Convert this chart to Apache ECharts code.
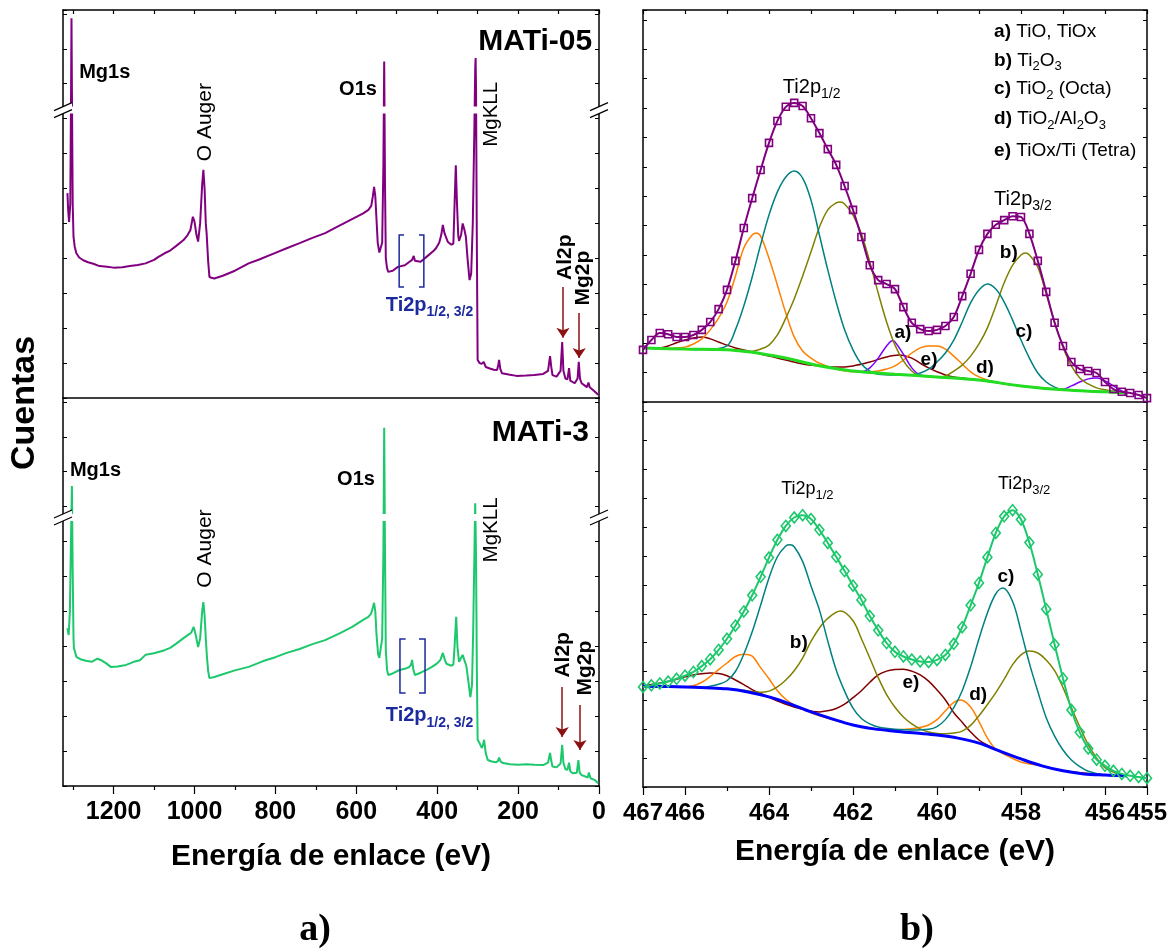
<!DOCTYPE html>
<html>
<head>
<meta charset="utf-8">
<script src="https://cdn.jsdelivr.net/npm/echarts@6/dist/echarts.min.js"></script>
<style>html,body{margin:0;padding:0;background:#fff}#c{width:1170px;height:950px}</style>
</head>
<body>
<div id="c"></div>
<script>
// ================= DATA =================
// Survey spectra: [binding energy eV, relative counts (display units 0-100)]
const surveyMATi05 = [
 [1314,52.8],[1312,48],[1310,45.4],[1307,50],[1305,80],[1304,97.9],[1303,80],[1301,50],[1299,41.5],[1296,39],
 [1292,37.3],[1285,36.2],[1275,35.5],[1263,35.0],[1250,34.6],[1235,34.0],[1216,33.8],[1200,33.6],[1178,33.7],
 [1160,34.0],[1140,34.3],[1121,34.7],[1100,35.6],[1090,36.3],[1074,37.3],[1060,38.0],[1045,39.2],[1027,40.7],
 [1017,42.0],[1010,43.3],[1004,46.7],[1000,45.5],[995,42.0],[991,40.3],[986,45],[981,55],[978,58.8],[975,54],
 [972,45],[970,42.5],[966,35],[963,31.2],[958,31.0],[951,30.8],[930,31.5],[900,32.8],[866,34.7],[840,35.7],
 [800,37.4],[772,38.6],[740,39.9],[710,41.2],[677,42.5],[650,44.0],[620,45.6],[583,47.6],[570,48.5],[563,49.5],
 [559,52],[556,54.4],[553,52],[550,46],[547,40],[543,37.5],[540,37.3],[536,40],[533,60],[531,86.7],[529,55],
 [527,36],[524,33.5],[521,32.5],[510,32.8],[497,33.8],[480,34.2],[470,35.0],[462,35.6],[458,36.6],[455,35.4],
 [441,35.1],[425,36.5],[410,37.8],[403,38.6],[395,40.0],[390,42.0],[386,44.6],[382,42.5],[374,40.3],[365,39.5],
 [360,39.8],[357,50],[354,60.0],[351,50],[348,42.0],[346,40.5],[341,42],[337,45.0],[333,43.5],[329,41.5],
 [325,36],[320,30.4],[316,32],[312,45],[308,70],[306,85],[305,87.6],[304,80],[302,40],[300,9.8],[295,9.0],
 [290,8.8],[285,9.3],[280,8.0],[270,7.6],[260,7.3],[252,7.2],[249,8.5],[247,9.8],[244,7.5],[240,6.4],[220,6.0],
 [204,5.7],[180,5.8],[160,5.9],[138,6.2],[126,7.0],[121,10.8],[118,8],[115,5.9],[105,5.5],[95,7],[91,14.4],
 [88,7],[83,5.0],[78,4.8],[74,7.7],[71,4.5],[67,4.0],[60,3.8],[53,5],[50,9.3],[47,5],[43,3.8],[35,3.2],[30,2.8],
 [26,4.0],[23,2.8],[20,2.5],[12,1.8],[6,1.2],[2,0.8]
];
const surveyMATi3 = [
 [1314,40.7],[1311,38.9],[1308,45],[1305,65],[1303,77.3],[1301,55],[1299,38],[1298,35.6],[1292,33.3],[1280,32.6],
 [1268,32.3],[1254,32.0],[1240,32.8],[1230,32.4],[1226,32.7],[1218,31.6],[1207,30.7],[1190,30.8],[1169,31.2],
 [1150,32.0],[1135,32.4],[1121,33.8],[1100,34.2],[1074,35.0],[1060,35.6],[1045,36.7],[1027,38.1],[1015,39.0],
 [1008,39.5],[1002,41.0],[997,39.0],[991,35.8],[986,38],[981,45],[978,47.4],[975,44],[972,38],[969,33],[966,29.5],
 [963,27.8],[951,28.1],[930,28.8],[900,29.8],[866,30.7],[830,32.2],[800,33.2],[772,34.3],[740,35.3],[710,36.5],
 [677,37.6],[640,39.4],[610,41.0],[583,42.8],[570,43.6],[563,44.5],[559,46],[556,47.2],[553,45],[550,39],[546,34],
 [543,33.0],[540,33.3],[536,38],[533,60],[531,92.3],[529,60],[527,35],[524,30],[521,28.6],[510,29.0],[493,29.9],
 [480,30.2],[470,30.6],[465,31.2],[462,32.5],[459,30],[455,28.6],[441,29.2],[425,30.0],[413,30.7],[400,31.6],
 [392,32.5],[386,34.3],[381,32.5],[377,31.5],[365,31.0],[360,31.3],[357,36],[353,43.6],[350,36],[346,32.0],
 [341,33],[337,33.8],[333,32.5],[328,31],[323,27],[318,22.9],[314,26],[311,40],[308,60],[306,72.9],[304,60],
 [302,30],[300,11.9],[295,11.0],[290,9.8],[287,10.5],[284,11.9],[280,8.5],[275,6.7],[265,6.3],[255,6.1],[250,6.4],
 [247,7.3],[243,6.3],[237,5.9],[220,5.6],[200,5.5],[180,5.6],[160,5.5],[138,5.4],[126,6.0],[121,8.5],[118,6.5],
 [115,5.0],[105,4.8],[95,5.8],[91,10.6],[88,6],[83,4.3],[78,4.2],[74,6.0],[71,3.8],[65,3.3],[55,3.4],[51,6.7],
 [48,3.5],[43,2.8],[35,2.5],[28,2.2],[25,3.5],[21,2.0],[17,1.8],[10,1.5],[6,1.0],[2,0.7]
];

// Ti2p high-resolution, MATi-05
const ti05Data = [
 [467.0,13.3],[466.8,15.8],[466.6,17.6],[466.4,17.3],[466.2,16.6],[466.0,16.6],[465.8,17.1],[465.6,18.4],[465.4,20.4],
 [465.2,23.7],[465.0,28.6],[464.8,36.0],[464.6,44.4],[464.4,52.0],[464.2,59.2],[464.0,66.1],[463.8,71.7],[463.6,75.3],
 [463.4,76.3],[463.2,75.5],[463.0,72.4],[462.8,68.6],[462.6,64.5],[462.4,60.5],[462.2,55.1],[462.0,49.0],[461.8,42.1],
 [461.6,34.9],[461.4,31.1],[461.2,30.1],[461.0,28.8],[460.8,24.2],[460.6,20.2],[460.4,18.6],[460.2,18.1],[460.0,18.4],
 [459.8,19.4],[459.6,21.7],[459.4,27.0],[459.2,32.7],[459.0,38.8],[458.8,42.9],[458.6,45.2],[458.4,46.4],[458.2,47.4],
 [458.0,47.2],[457.8,42.9],[457.6,36.0],[457.4,28.1],[457.2,20.2],[457.0,14.3],[456.8,10.2],[456.6,8.4],[456.4,7.9],
 [456.2,7.4],[456.0,5.1],[455.8,3.3],[455.6,2.6],[455.4,2.3],[455.2,1.8],[455.0,1.0]
];
const ti05Baseline = [
 [467,13.8],[466,13.5],[465,13.3],[464.5,12.8],[464,12.0],[463.5,11.0],[463,9.7],[462.5,8.7],[462,7.9],[461,7.1],
 [460,6.4],[459,5.6],[458,4.1],[457,3.1],[456,2.6],[455.5,2.3]
];
const ti05A_TiO = [
 [467,13.8],[466,13.5],[465,13.3],[464,12.0],[463,9.7],[462,7.9],[461.8,7.7],[461.6,8.7],[461.4,11.2],[461.2,14.3],
 [461.06,15.6],[461.0,15.3],[460.8,12.2],[460.6,8.7],[460.4,6.9],[460.0,6.4],[459.0,5.6],[458.0,4.1],[457.2,3.3],
 [457.0,3.3],[456.8,4.1],[456.6,5.1],[456.4,5.9],[456.2,6.1],[456.0,5.4],[455.8,4.1],[455.6,2.8],[455.5,2.3]
];
const ti05B_Ti2O3 = [
 [467,13.8],[466,13.5],[465,13.3],[464.5,12.8],[464.2,13.5],[464.0,14.5],[463.8,17.1],[463.6,21.4],[463.4,26.3],
 [463.2,32.1],[463.0,38.3],[462.8,44.6],[462.6,49.0],[462.4,50.8],[462.3,51.0],[462.2,50.5],[462.0,47.7],[461.8,42.9],
 [461.6,35.7],[461.4,27.8],[461.2,20.4],[461.0,14.5],[460.8,10.5],[460.6,7.9],[460.4,6.6],[460.0,6.4],[459.8,6.6],
 [459.6,7.9],[459.4,9.4],[459.2,11.7],[459.0,14.8],[458.8,18.9],[458.6,24.5],[458.4,30.4],[458.2,34.9],[458.0,37.5],
 [457.9,38.0],[457.8,37.5],[457.6,34.4],[457.4,27.6],[457.2,20.4],[457.0,14.0],[456.8,9.2],[456.6,6.1],[456.4,4.6],
 [456.2,3.6],[456.0,3.1],[455.5,2.3]
];
const ti05C_TiO2Octa = [
 [467,13.8],[466,13.5],[465.5,13.4],[465.0,14.3],[464.8,18.4],[464.6,24.5],[464.4,31.9],[464.2,40.1],[464.0,47.7],
 [463.8,53.6],[463.6,57.4],[463.4,58.9],[463.2,57.1],[463.0,51.5],[462.8,42.6],[462.6,33.7],[462.4,25.5],[462.2,18.4],
 [462.0,13.3],[461.8,9.7],[461.6,7.9],[461.4,7.1],[461.0,6.9],[460.6,6.9],[460.4,7.4],[460.2,8.4],[460.0,10.2],
 [459.8,12.5],[459.6,15.8],[459.4,20.4],[459.2,25.3],[459.0,28.6],[458.8,30.1],[458.6,28.8],[458.4,25.5],[458.2,20.9],
 [458.0,15.8],[457.8,11.2],[457.6,7.4],[457.4,5.1],[457.2,3.8],[457.0,3.1],[456.5,2.8],[456.0,2.6],[455.5,2.3]
];
const ti05D_TiO2Al2O3 = [
 [467,13.8],[466.4,13.6],[466.2,13.8],[466.0,14.0],[465.8,14.8],[465.6,16.1],[465.4,18.4],[465.2,21.4],[465.0,25.5],
 [464.8,32.1],[464.6,39.3],[464.4,42.6],[464.3,43.1],[464.2,42.3],[464.0,36.7],[463.8,29.8],[463.6,22.7],[463.4,16.6],
 [463.2,13.0],[463.0,11.2],[462.8,9.9],[462.4,8.4],[462.0,7.7],[461.6,7.7],[461.4,7.9],[461.2,8.4],[461.0,9.2],
 [460.8,10.7],[460.6,12.5],[460.4,13.8],[460.2,14.3],[460.0,14.3],[459.8,13.5],[459.6,11.7],[459.4,9.7],[459.2,7.7],
 [459.0,6.4],[458.8,5.6],[458.5,4.8],[458.0,4.1],[457.5,3.6],[457.0,3.1],[456.0,2.6],[455.5,2.3]
];
const ti05E_TiOxTi = [
 [467,13.8],[466.6,13.8],[466.4,14.3],[466.2,15.1],[466.0,15.8],[465.8,16.3],[465.6,16.6],[465.4,16.1],[465.2,15.3],
 [465.0,14.5],[464.8,13.8],[464.4,12.8],[464.0,11.7],[463.6,10.7],[463.2,9.7],[462.8,9.2],[462.4,8.9],[462.0,9.2],
 [461.6,10.2],[461.2,11.5],[460.9,12.0],[460.6,11.2],[460.4,9.9],[460.2,8.7],[460.0,7.7],[459.8,6.9],[459.6,6.4],
 [459.0,5.6],[458.0,4.1],[457.0,3.1],[456.0,2.6],[455.5,2.3]
];

// Ti2p high-resolution, MATi-3
const ti3Data = [
 [467.0,26.0],[466.8,26.4],[466.6,26.9],[466.4,27.4],[466.2,28.1],[466.0,28.9],[465.8,29.9],[465.6,31.4],[465.4,33.2],
 [465.2,35.6],[465.0,38.5],[464.8,41.9],[464.6,45.6],[464.4,49.8],[464.2,54.6],[464.0,59.6],[463.8,64.2],[463.6,67.8],
 [463.4,70.0],[463.2,70.6],[463.0,69.6],[462.8,66.8],[462.6,63.4],[462.4,59.8],[462.2,56.1],[462.0,52.3],[461.8,48.6],
 [461.6,44.4],[461.4,40.7],[461.2,37.4],[461.0,35.1],[460.8,33.9],[460.6,33.1],[460.4,32.6],[460.2,32.5],[460.0,33.0],
 [459.8,34.3],[459.6,37.2],[459.4,41.5],[459.2,47.2],[459.0,53.0],[458.8,59.7],[458.6,66.0],[458.4,70.3],[458.2,71.9],
 [458.0,69.5],[457.8,63.5],[457.6,55.2],[457.4,46.2],[457.2,37.0],[457.0,28.2],[456.8,20.0],[456.6,14.2],[456.4,10.0],
 [456.2,7.1],[456.0,5.5],[455.8,4.2],[455.6,3.4],[455.4,2.9],[455.2,2.6],[455.0,2.3]
];
const ti3Baseline = [
 [467,26.2],[466,26.0],[465.5,25.8],[465,25.5],[464.5,24.7],[464,23.4],[463.5,21.6],[463,19.5],[462.5,17.7],[462,16.1],
 [461.5,15.1],[461,14.5],[460.5,14.0],[460,13.5],[459.5,12.7],[459,11.4],[458.5,9.3],[458,7.3],[457.5,5.5],[457,4.2],
 [456.5,3.4],[456,3.1],[455.5,2.9]
];
const ti3B_Ti2O3 = [
 [467,26.2],[466,26.0],[465,25.5],[464.6,25.1],[464.4,24.8],[464.2,24.6],[464.0,24.9],[463.8,26.0],[463.6,27.8],
 [463.4,30.2],[463.2,33.5],[463.0,37.8],[462.8,41.3],[462.6,43.8],[462.3,45.7],[462.0,43.2],[461.8,38.5],[461.6,33.5],
 [461.4,28.4],[461.2,24.0],[461.0,20.7],[460.8,18.2],[460.6,16.4],[460.4,15.1],[460.2,14.3],[460.0,13.9],[459.8,13.8],
 [459.6,14.0],[459.4,14.5],[459.2,16.0],[459.0,18.5],[458.8,21.4],[458.6,24.5],[458.4,28.0],[458.2,31.8],[458.0,34.3],
 [457.8,35.3],[457.6,34.8],[457.4,33.0],[457.2,30.2],[457.0,25.8],[456.8,20.6],[456.6,15.6],[456.4,11.0],[456.2,7.5],
 [456.0,5.0],[455.8,3.9],[455.5,2.9]
];
const ti3C_TiO2Octa = [
 [467,26.2],[466,26.0],[465.6,25.8],[465.4,26.2],[465.2,26.7],[465.0,27.6],[464.8,30.0],[464.6,34.5],[464.4,40.3],
 [464.2,47.2],[464.0,54.3],[463.8,59.8],[463.6,62.6],[463.5,62.9],[463.4,62.4],[463.2,58.6],[463.0,52.2],[462.8,46.0],
 [462.6,37.9],[462.4,30.4],[462.2,24.9],[462.0,20.5],[461.8,17.8],[461.6,16.4],[461.4,15.6],[461.0,15.0],[460.6,14.8],
 [460.2,15.0],[460.0,15.7],[459.8,17.5],[459.6,20.6],[459.4,25.0],[459.2,31.2],[459.0,38.5],[458.8,45.2],[458.6,50.2],
 [458.43,51.7],[458.2,48.2],[458.0,40.5],[457.8,32.1],[457.6,24.8],[457.4,18.0],[457.2,13.2],[457.0,9.6],[456.8,7.0],
 [456.6,5.3],[456.4,4.1],[456.0,3.1],[455.5,2.9]
];
const ti3D_TiO2Al2O3 = [
 [467,26.2],[466,26.0],[465.8,26.3],[465.6,27.2],[465.4,28.7],[465.2,30.5],[465.0,32.2],[464.8,33.9],[464.6,34.5],
 [464.4,34.0],[464.2,31.0],[464.0,28.1],[463.8,25.0],[463.6,22.8],[463.4,21.3],[463.0,19.3],[462.5,17.5],[462.0,16.1],
 [461.5,15.2],[461.0,14.8],[460.6,15.1],[460.4,15.5],[460.2,16.1],[460.0,17.5],[459.8,19.8],[459.6,22.0],[459.43,22.6],
 [459.2,20.8],[459.0,17.0],[458.8,12.7],[458.6,9.8],[458.4,8.5],[458.0,6.5],[457.5,5.5],[457.0,4.2],[456.0,3.1],[455.5,2.9]
];
const ti3E_TiOxTi = [
 [467,26.2],[466.6,27.0],[466.2,28.0],[466.0,28.6],[465.8,29.1],[465.6,29.4],[465.4,29.6],[465.2,29.5],[465.0,28.9],
 [464.8,27.8],[464.6,26.6],[464.4,25.3],[464.2,24.3],[464.0,23.3],[463.6,21.5],[463.2,20.2],[462.8,19.5],[462.6,19.8],
 [462.4,20.4],[462.2,21.5],[462.0,23.2],[461.8,25.0],[461.6,27.2],[461.4,29.1],[461.2,30.1],[461.0,30.5],[460.8,30.6],
 [460.6,30.1],[460.4,29.1],[460.2,27.5],[460.0,25.2],[459.8,22.6],[459.6,19.3],[459.4,16.8],[459.2,14.3],[459.0,12.2],
 [458.8,10.9],[458.5,9.3],[458.0,7.3],[457.5,5.5],[457.0,4.2],[456.0,3.1],[455.5,2.9]
];

// Tick values
const surveyLabelTicks = [0, 200, 400, 600, 800, 1000, 1200];
const surveyMinorTicks = [100, 300, 500, 700, 900, 1100, 1300];
const surveyTopTicks = [0,100,200,300,400,500,600,700,800,900,1000,1100,1200,1300];
const tiLabelTicks = [455, 456, 458, 460, 462, 464, 466, 467];
const tiMinorTicks = [457, 459, 461, 463, 465];
const tiTopTicks = [455,456,457,458,459,460,461,462,463,464,465,466,467];

// ================= CHART =================
const FONT = '"Liberation Sans", Arial, Helvetica, sans-serif';
const SERIF = '"Liberation Serif", "Times New Roman", serif';
const SURVEY_MIN = 0, SURVEY_MAX = 1325, TI_MIN = 455, TI_MAX = 467;

const chart = echarts.init(document.getElementById('c'), null, {renderer: 'canvas'});

function xAx(grid, pos, min, max, cfg) {
  return Object.assign({
    type: 'value', gridIndex: grid, position: pos, min: min, max: max, inverse: true,
    axisLine: {show: true, onZero: false, lineStyle: {color: '#000', width: 1.5}},
    axisTick: {show: false},
    axisLabel: {show: false},
    splitLine: {show: false}
  }, cfg || {});
}
function yAx(grid, pos, interval) {
  return {
    type: 'value', gridIndex: grid, position: pos, min: 0, max: 100, interval: interval,
    axisLine: {show: true, onZero: false, lineStyle: {color: '#000', width: 1.5}},
    axisTick: {show: true, inside: true, length: 4, lineStyle: {color: '#000', width: 1}},
    axisLabel: {show: false},
    splitLine: {show: false}
  };
}
const tickStyle = {color: '#000', width: 1.2};
const lblStyle = (size, vals) => ({show: true, customValues: vals, color: '#000', fontFamily: FONT, fontWeight: 'bold',
  fontSize: size, margin: 14, formatter: v => String(v)});

const comp = (data, color, xi, yi, w) => ({
  type: 'line', data: data, xAxisIndex: xi, yAxisIndex: yi, showSymbol: false, smooth: 0.35,
  lineStyle: {color: color, width: w || 1.5}, z: 2, silent: true
});

const arrowStyle = {silent: true, symbol: ['none', 'arrow'], symbolSize: 10, label: {show: false},
  lineStyle: {color: '#8b1010', width: 1.5, type: 'solid'}, emphasis: {disabled: true}};

const option = {
  animation: false,
  backgroundColor: '#ffffff',
  grid: [
    {left: 63, top: 10, width: 536, height: 388, containLabel: false, outerBoundsMode: 'none'},
    {left: 63, top: 398, width: 536, height: 388, containLabel: false, outerBoundsMode: 'none'},
    {left: 643, top: 10, width: 504, height: 392, containLabel: false, outerBoundsMode: 'none'},
    {left: 643, top: 402, width: 504, height: 385, containLabel: false, outerBoundsMode: 'none'}
  ],
  xAxis: [
    xAx(0, 'bottom', SURVEY_MIN, SURVEY_MAX),
    xAx(0, 'top', SURVEY_MIN, SURVEY_MAX, {axisTick: {show: true, inside: true, length: 4, customValues: surveyTopTicks, lineStyle: tickStyle}}),
    xAx(1, 'bottom', SURVEY_MIN, SURVEY_MAX, {
      axisTick: {show: true, inside: false, length: 8, customValues: surveyLabelTicks, lineStyle: tickStyle},
      axisLabel: lblStyle(25, surveyLabelTicks)}),
    xAx(1, 'bottom', SURVEY_MIN, SURVEY_MAX, {axisLine: {show: false, onZero: false},
      axisTick: {show: true, inside: false, length: 4, customValues: surveyMinorTicks, lineStyle: tickStyle}}),
    xAx(2, 'bottom', TI_MIN, TI_MAX),
    xAx(2, 'top', TI_MIN, TI_MAX, {axisTick: {show: true, inside: true, length: 4, customValues: tiTopTicks, lineStyle: tickStyle}}),
    xAx(3, 'bottom', TI_MIN, TI_MAX, {
      axisTick: {show: true, inside: false, length: 8, customValues: tiLabelTicks, lineStyle: tickStyle},
      axisLabel: lblStyle(24, tiLabelTicks)}),
    xAx(3, 'bottom', TI_MIN, TI_MAX, {axisLine: {show: false, onZero: false},
      axisTick: {show: true, inside: false, length: 4, customValues: tiMinorTicks, lineStyle: tickStyle}})
  ],
  yAxis: [
    yAx(0, 'left', 9), yAx(0, 'right', 9),
    yAx(1, 'left', 9), yAx(1, 'right', 9),
    yAx(2, 'left', 7.5), yAx(2, 'right', 7.5),
    yAx(3, 'left', 7.5), yAx(3, 'right', 7.5)
  ],
  series: [
    {type: 'line', data: surveyMATi05, xAxisIndex: 0, yAxisIndex: 0, showSymbol: false,
     lineStyle: {color: '#800080', width: 2}, z: 3, silent: true,
     markLine: Object.assign({data: [
       [{coord: [89, 28.6]}, {coord: [89, 15.5]}],
       [{coord: [49, 21.9]}, {coord: [49, 10.3]}]
     ]}, arrowStyle)},
    {type: 'line', data: surveyMATi3, xAxisIndex: 2, yAxisIndex: 2, showSymbol: false,
     lineStyle: {color: '#1dc86d', width: 2}, z: 3, silent: true,
     markLine: Object.assign({data: [
       [{coord: [91, 25.5]}, {coord: [91, 12.6]}],
       [{coord: [47, 20.9]}, {coord: [47, 9.3]}]
     ]}, arrowStyle)},

    comp(ti05E_TiOxTi, '#800000', 4, 4),
    comp(ti05D_TiO2Al2O3, '#ff8000', 4, 4),
    comp(ti05A_TiO, '#8000ff', 4, 4),
    comp(ti05B_Ti2O3, '#808000', 4, 4),
    comp(ti05C_TiO2Octa, '#008080', 4, 4),
    Object.assign(comp(ti05Baseline, '#22dd22', 4, 4, 3), {z: 3}),
    {type: 'line', data: ti05Data, xAxisIndex: 4, yAxisIndex: 4, smooth: 0.3, symbol: 'rect', symbolSize: 7,
     showSymbol: true, silent: true, z: 4,
     lineStyle: {color: '#800080', width: 2},
     itemStyle: {color: 'rgba(255,255,255,0)', borderColor: '#800080', borderWidth: 1.6}},

    comp(ti3E_TiOxTi, '#800000', 6, 6),
    comp(ti3D_TiO2Al2O3, '#ff8000', 6, 6),
    comp(ti3B_Ti2O3, '#808000', 6, 6),
    comp(ti3C_TiO2Octa, '#008080', 6, 6),
    Object.assign(comp(ti3Baseline, '#0000ff', 6, 6, 3), {z: 3}),
    {type: 'line', data: ti3Data, xAxisIndex: 6, yAxisIndex: 6, smooth: 0.3, symbol: 'diamond', symbolSize: [9, 11],
     showSymbol: true, silent: true, z: 4,
     lineStyle: {color: '#1dc86d', width: 2},
     itemStyle: {color: 'rgba(255,255,255,0)', borderColor: '#1dc86d', borderWidth: 1.6}}
  ]
};
chart.setOption(option);

// ================= ANNOTATIONS =================
const AXES = [[0, 0], [2, 2], [4, 4], [6, 6]];
const pix = (g, x, y) => chart.convertToPixel({xAxisIndex: AXES[g][0], yAxisIndex: AXES[g][1]}, [x, y]);
const els = [];
function txt(g, x, y, text, style, rot) {
  const p = pix(g, x, y);
  els.push({type: 'text', x: p[0], y: p[1], rotation: rot || 0, z: 100, silent: true,
    style: Object.assign({text: text, fill: '#000', fontFamily: FONT, fontSize: 20, align: 'center', verticalAlign: 'middle'}, style)});
}
function ptxt(x, y, text, style, rot) {
  els.push({type: 'text', x: x, y: y, rotation: rot || 0, z: 100, silent: true,
    style: Object.assign({text: text, fill: '#000', fontFamily: FONT, fontSize: 20, align: 'center', verticalAlign: 'middle'}, style)});
}
const B = {fontWeight: 'bold'};
const ROT = Math.PI / 2;

// break marks + gap in survey panels
[[0, 74.2], [1, 69.2]].forEach(([g, yv]) => {
  const l = pix(g, SURVEY_MAX, yv), r = pix(g, SURVEY_MIN, yv);
  els.push({type: 'rect', z: 99, silent: true, shape: {x: l[0] + 1, y: l[1] - 3.5, width: r[0] - l[0] - 2, height: 7}, style: {fill: '#fff'}});
  [l, r].forEach(p => {
    const x = p[0], y = p[1];
    els.push({type: 'polygon', z: 100, silent: true, shape: {points: [[x - 9, y + 0.5], [x + 9, y - 7.5], [x + 9, y - 0.5], [x - 9, y + 7.5]]}, style: {fill: '#fff'}});
    els.push({type: 'line', z: 101, silent: true, shape: {x1: x - 9, y1: y + 0.5, x2: x + 9, y2: y - 7.5}, style: {stroke: '#000', lineWidth: 1.3}});
    els.push({type: 'line', z: 101, silent: true, shape: {x1: x - 9, y1: y + 7.5, x2: x + 9, y2: y - 0.5}, style: {stroke: '#000', lineWidth: 1.3}});
  });
});

// brackets around Ti2p region
const BLUE = '#1c2a9e';
function bracket(g, xOuter, xInner, yTop, yBot) {
  const a = pix(g, xInner, yTop), b = pix(g, xOuter, yTop), c = pix(g, xOuter, yBot), d = pix(g, xInner, yBot);
  els.push({type: 'polyline', z: 100, silent: true, shape: {points: [a, b, c, d]}, style: {stroke: BLUE, lineWidth: 1.5, fill: null}});
}
bracket(0, 494, 482, 42.0, 28.6); bracket(0, 433, 445, 42.0, 28.6);
bracket(1, 492, 478, 37.9, 24.0); bracket(1, 430, 445, 37.9, 24.0);

const tiRichBlue = {
  n: {fontSize: 20, fontWeight: 'bold', fill: BLUE, fontFamily: FONT, lineHeight: 22, verticalAlign: 'top'},
  s: {fontSize: 14, fontWeight: 'bold', fill: BLUE, fontFamily: FONT, lineHeight: 14, verticalAlign: 'top', padding: [10, 0, 0, 0]}
};

// Survey top panel
txt(0, 1285, 83.8, 'Mg1s', Object.assign({align: 'left'}, B));
txt(0, 973, 71.1, 'O Auger', {fontSize: 21}, ROT);
txt(0, 549, 79.4, 'O1s', Object.assign({align: 'right'}, B));
txt(0, 267, 73.1, 'MgKLL', {fontSize: 20.5}, ROT);
txt(0, 17, 91.9, 'MATi-05', {align: 'right', fontWeight: 'bold', fontSize: 30});
txt(0, 527, 23.7, '{n|Ti2p}{s|1/2, 3/2}', {align: 'left', rich: tiRichBlue});
txt(0, 84, 36.3, 'Al2p', Object.assign({fontSize: 21}, B), ROT);
txt(0, 40, 30.9, 'Mg2p', Object.assign({fontSize: 21}, B), ROT);
// Survey bottom panel
txt(1, 1308, 81.4, 'Mg1s', Object.assign({align: 'left'}, B));
txt(1, 974, 61.2, 'O Auger', {fontSize: 21}, ROT);
txt(1, 554, 78.9, 'O1s', Object.assign({align: 'right'}, B));
txt(1, 267, 66.0, 'MgKLL', {fontSize: 20.5}, ROT);
txt(1, 25, 91.0, 'MATi-3', {align: 'right', fontWeight: 'bold', fontSize: 30});
txt(1, 527, 17.8, '{n|Ti2p}{s|1/2, 3/2}', {align: 'left', rich: tiRichBlue});
txt(1, 89, 33.8, 'Al2p', Object.assign({fontSize: 21}, B), ROT);
txt(1, 35, 30.4, 'Mg2p', Object.assign({fontSize: 21}, B), ROT);

// Ti2p panels
const richTi = (fs, ss, pad) => ({
  n: {fontSize: fs, fontFamily: FONT, fill: '#000', lineHeight: fs + 2, verticalAlign: 'top'},
  b: {fontSize: fs, fontFamily: FONT, fill: '#000', fontWeight: 'bold', lineHeight: fs + 2, verticalAlign: 'top'},
  s: {fontSize: ss, fontFamily: FONT, fill: '#000', lineHeight: ss, verticalAlign: 'top', padding: [pad, 0, 0, 0]}
});
const r20 = richTi(20, 14, 10), r18 = richTi(18, 13, 9), r19 = richTi(19, 13, 9);
txt(2, 463.67, 80.1, '{n|Ti2p}{s|1/2}', {align: 'left', rich: r20});
txt(2, 458.64, 51.5, '{n|Ti2p}{s|3/2}', {align: 'left', rich: r20});
const legendLines = [
  '{b|a)}{n| TiO, TiOx}',
  '{b|b)}{n| Ti}{s|2}{n|O}{s|3}',
  '{b|c)}{n| TiO}{s|2}{n| (Octa)}',
  '{b|d)}{n| TiO}{s|2}{n|/Al}{s|2}{n|O}{s|3}',
  '{b|e)}{n| TiOx/Ti (Tetra)}'
];
[94.1, 86.9, 79.6, 71.9, 63.8].forEach((yv, i) => txt(2, 458.64, yv, legendLines[i], {align: 'left', rich: r19}));
const compLbl = Object.assign({fontSize: 19}, B);
txt(2, 460.81, 17.6, 'a)', compLbl);
txt(2, 460.19, 10.7, 'e)', compLbl);
txt(2, 458.86, 8.7, 'd)', compLbl);
txt(2, 458.29, 38.0, 'b)', compLbl);
txt(2, 457.93, 17.9, 'c)', compLbl);
txt(3, 463.71, 77.1, '{n|Ti2p}{s|1/2}', {align: 'left', rich: r18});
txt(3, 458.55, 78.4, '{n|Ti2p}{s|3/2}', {align: 'left', rich: r18});
txt(3, 463.29, 37.4, 'b)', compLbl);
txt(3, 460.62, 27.0, 'e)', compLbl);
txt(3, 459.02, 23.9, 'd)', compLbl);
txt(3, 458.36, 54.5, 'c)', compLbl);

// axis titles and panel letters
ptxt(25, 403, 'Cuentas', {fontWeight: 'bold', fontSize: 34}, ROT);
ptxt(331, 857, 'Energía de enlace (eV)', {fontWeight: 'bold', fontSize: 30});
ptxt(895, 852, 'Energía de enlace (eV)', {fontWeight: 'bold', fontSize: 30});
ptxt(315, 930, 'a)', {fontWeight: 'bold', fontSize: 38, fontFamily: SERIF});
ptxt(917, 930, 'b)', {fontWeight: 'bold', fontSize: 38, fontFamily: SERIF});

chart.setOption({graphic: {elements: els}});
</script>
</body>
</html>
